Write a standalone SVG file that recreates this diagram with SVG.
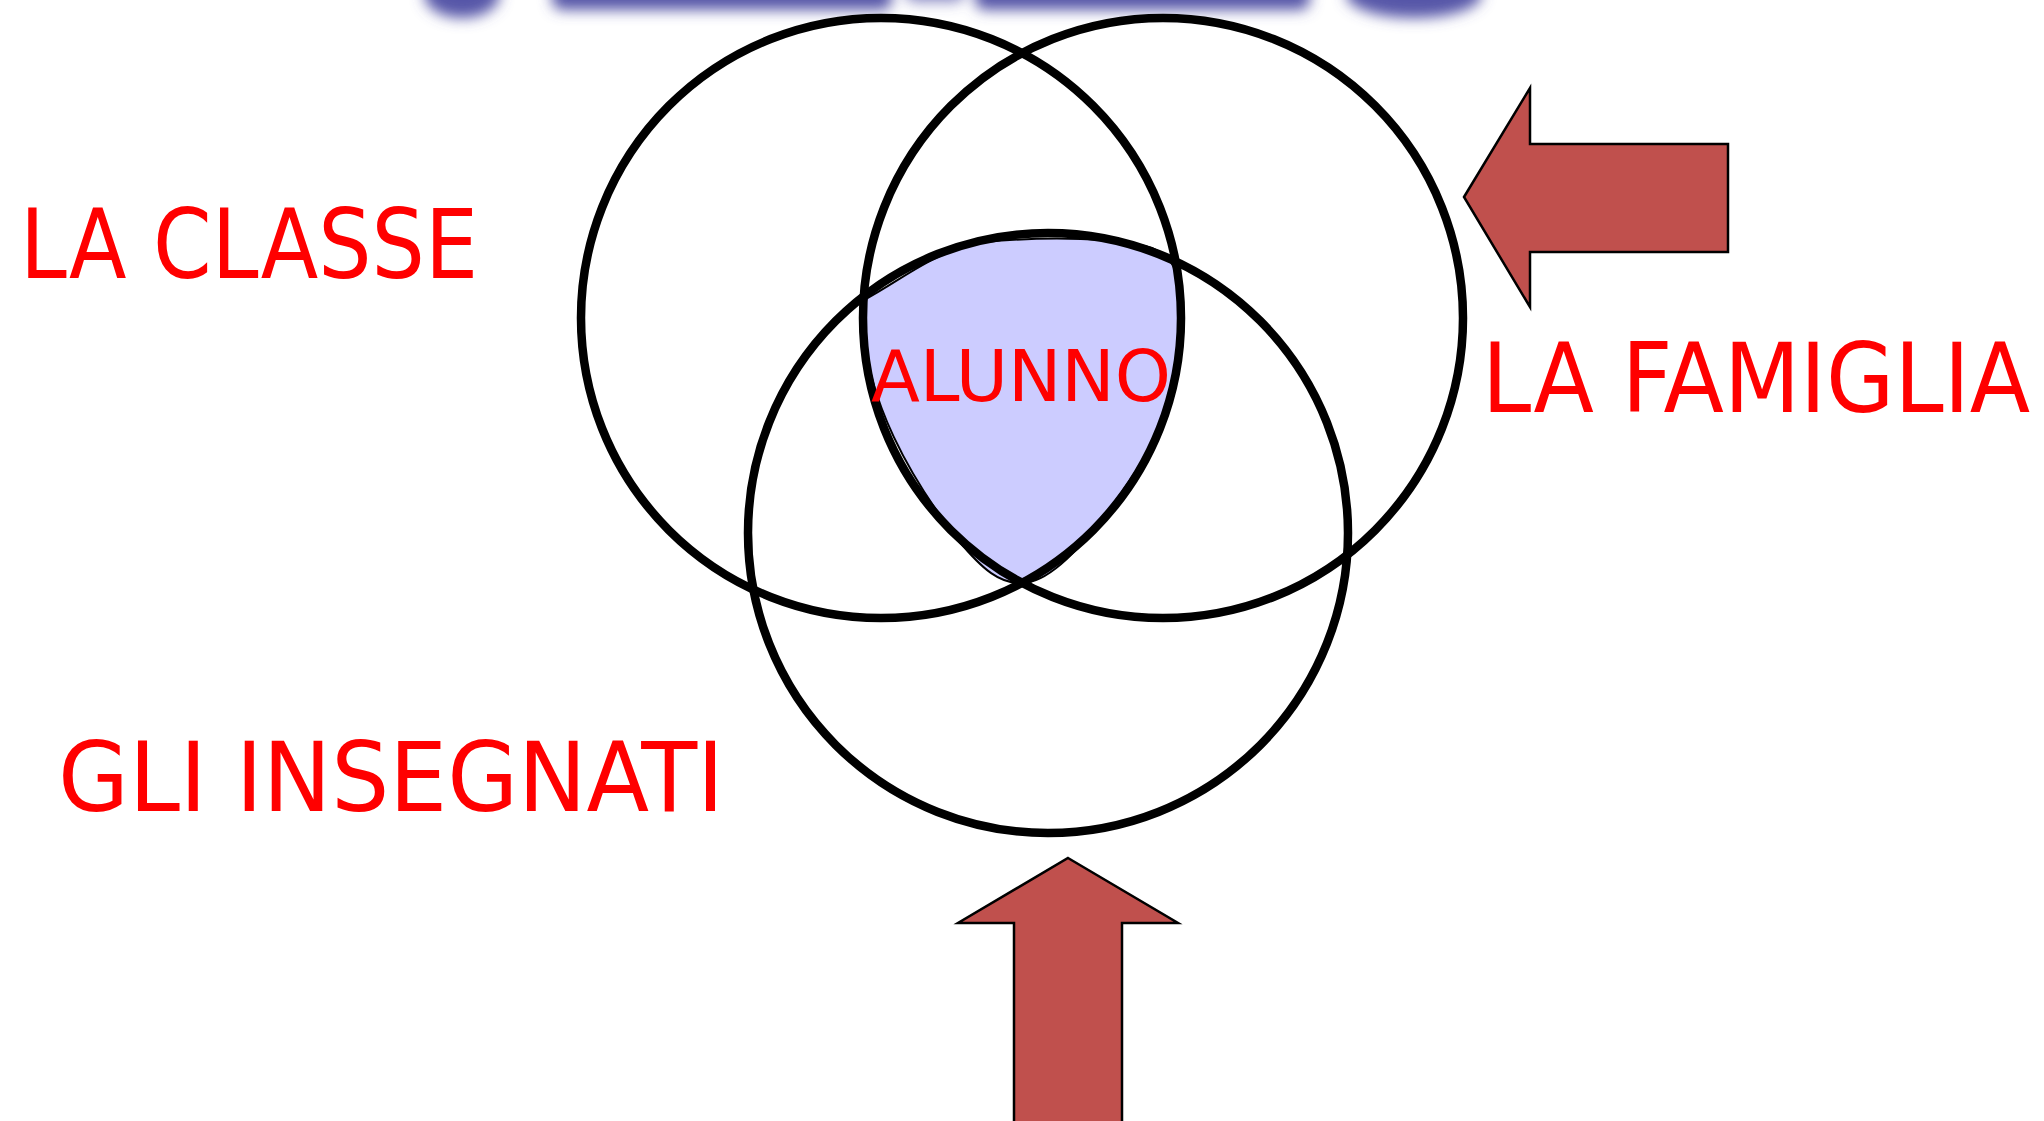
<svg xmlns="http://www.w3.org/2000/svg" width="2044" height="1121" viewBox="0 0 2044 1121">
<style>
.ring{fill:none;stroke:#000;stroke-width:8.5}
.arrow{fill:#C0504D;stroke:#000;stroke-width:2.5;stroke-linejoin:miter}
.lbl{fill:#FF0000;font-family:"DejaVu Sans Condensed","DejaVu Sans","Liberation Sans",sans-serif;font-size:96px}
.core{fill:#FF0000;font-family:"DejaVu Sans Condensed","DejaVu Sans","Liberation Sans",sans-serif;font-size:72px}
</style>
<defs>
<filter id="blur" x="-20%" y="-200%" width="140%" height="500%">
<feGaussianBlur stdDeviation="7"/>
</filter>
</defs>
<rect width="2044" height="1121" fill="#fff"/>
<g id="title-blur" filter="url(#blur)" fill="#5656a8">
<ellipse cx="462" cy="-6" rx="38" ry="24"/>
<rect x="552" y="-40" width="340" height="50" rx="10"/>
<rect x="905" y="-40" width="60" height="42" rx="10" opacity="0.7"/>
<rect x="975" y="-40" width="335" height="50" rx="10"/>
<ellipse cx="1414" cy="-6" rx="68" ry="24"/>
</g>
<g id="alunno">
<path d="M 864 300 C 905 278, 935 250, 985 242 C 1050 236, 1120 238, 1152 248 C 1172 256, 1180 272, 1180 300 C 1182 360, 1166 428, 1130 480 C 1090 540, 1052 583, 1022 583 C 1000 584, 983 570, 958 540 C 908 475, 868 400, 864 330 Z" fill="#CCCCFF" stroke="#000" stroke-width="2"/>
</g>
<g id="la-classe"><circle class="ring" cx="881" cy="318" r="300"/></g>
<g id="la-famiglia"><circle class="ring" cx="1163" cy="318" r="300"/></g>
<g id="gli-insegnati"><circle class="ring" cx="1048" cy="533" r="300"/></g>
<g id="connectors">
<polygon class="arrow" points="1464,197 1530,88 1530,144 1728,144 1728,252 1530,252 1530,307"/>
<polygon class="arrow" points="1068,858 1178,923 1122,923 1122,1125 1014,1125 1014,923 958,923"/>
</g>
<g id="labels">
<text class="lbl" x="20" y="278" textLength="458" lengthAdjust="spacingAndGlyphs">LA CLASSE</text>
<text class="lbl" x="1482" y="412" textLength="548" lengthAdjust="spacingAndGlyphs">LA FAMIGLIA</text>
<text class="lbl" x="58" y="811" textLength="666" lengthAdjust="spacingAndGlyphs">GLI INSEGNATI</text>
<text class="core" x="871" y="401" textLength="300" lengthAdjust="spacingAndGlyphs">ALUNNO</text>
</g>
</svg>
